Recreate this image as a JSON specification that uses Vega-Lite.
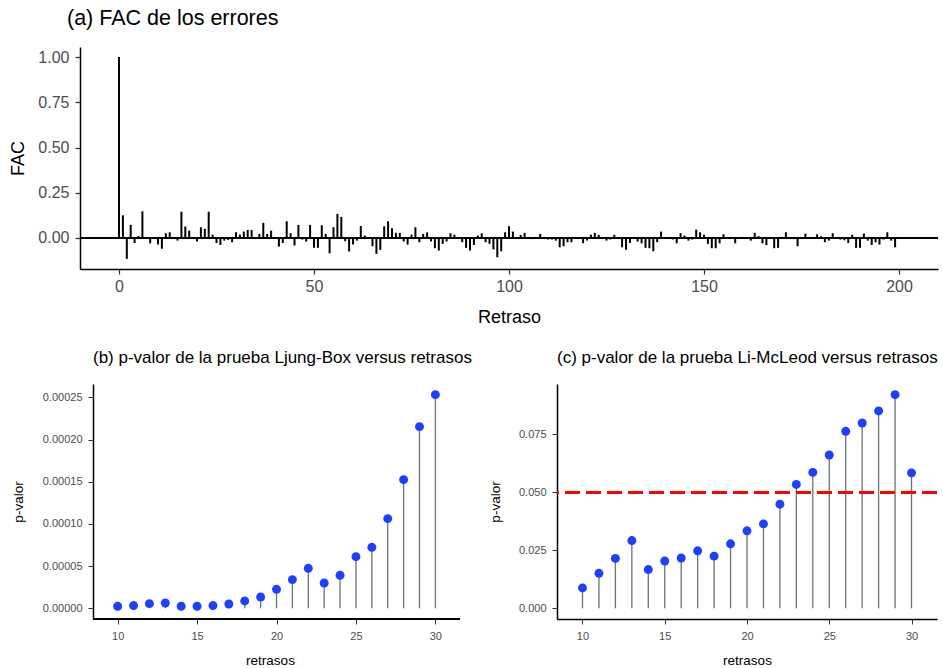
{
  "$schema": "https://vega.github.io/schema/vega-lite/v6.json",
  "padding": {"left": 9, "top": 7, "right": 4, "bottom": 4},
  "config": {
    "font": "Liberation Sans",
    "view": {"stroke": null},
    "axis": {"grid": false, "domainColor": "black", "tickColor": "#333333", "labelColor": "#4d4d4d", "titleColor": "black", "titleFontWeight": "normal", "labelFont": "Liberation Sans", "titleFont": "Liberation Sans"},
    "title": {"font": "Liberation Sans", "fontWeight": "normal", "color": "black", "anchor": "start", "frame": "group"}
  },
  "datasets": {
    "fac": [
      {"retraso":0,"fac":1.0},{"retraso":1,"fac":0.125},{"retraso":2,"fac":-0.116},{"retraso":3,"fac":0.072},{"retraso":4,"fac":-0.028},{"retraso":5,"fac":0.01},{"retraso":6,"fac":0.147},{"retraso":7,"fac":0.005},{"retraso":8,"fac":-0.03},{"retraso":9,"fac":0.003},
      {"retraso":10,"fac":-0.037},{"retraso":11,"fac":-0.06},{"retraso":12,"fac":0.026},{"retraso":13,"fac":0.031},{"retraso":14,"fac":0.004},{"retraso":15,"fac":-0.015},{"retraso":16,"fac":0.145},{"retraso":17,"fac":0.063},{"retraso":18,"fac":0.04},{"retraso":19,"fac":0.002},
      {"retraso":20,"fac":-0.02},{"retraso":21,"fac":0.059},{"retraso":22,"fac":0.05},{"retraso":23,"fac":0.145},{"retraso":24,"fac":0.018},{"retraso":25,"fac":-0.028},{"retraso":26,"fac":-0.039},{"retraso":27,"fac":-0.015},{"retraso":28,"fac":-0.011},{"retraso":29,"fac":-0.024},
      {"retraso":30,"fac":0.031},{"retraso":31,"fac":0.018},{"retraso":32,"fac":0.035},{"retraso":33,"fac":0.044},{"retraso":34,"fac":0.044},{"retraso":35,"fac":0.003},{"retraso":36,"fac":0.022},{"retraso":37,"fac":0.083},{"retraso":38,"fac":0.022},{"retraso":39,"fac":0.04},
      {"retraso":40,"fac":0.002},{"retraso":41,"fac":-0.048},{"retraso":42,"fac":-0.028},{"retraso":43,"fac":0.092},{"retraso":44,"fac":0.026},{"retraso":45,"fac":-0.042},{"retraso":46,"fac":0.072},{"retraso":47,"fac":-0.009},{"retraso":48,"fac":-0.02},{"retraso":49,"fac":0.072},
      {"retraso":50,"fac":-0.055},{"retraso":51,"fac":-0.055},{"retraso":52,"fac":0.07},{"retraso":53,"fac":0.022},{"retraso":54,"fac":-0.085},{"retraso":55,"fac":0.059},{"retraso":56,"fac":0.133},{"retraso":57,"fac":0.116},{"retraso":58,"fac":-0.018},{"retraso":59,"fac":-0.075},
      {"retraso":60,"fac":-0.037},{"retraso":61,"fac":-0.015},{"retraso":62,"fac":0.066},{"retraso":63,"fac":0.013},{"retraso":64,"fac":0.002},{"retraso":65,"fac":-0.046},{"retraso":66,"fac":-0.088},{"retraso":67,"fac":-0.066},{"retraso":68,"fac":0.064},{"retraso":69,"fac":0.092},
      {"retraso":70,"fac":0.053},{"retraso":71,"fac":0.028},{"retraso":72,"fac":0.028},{"retraso":73,"fac":-0.02},{"retraso":74,"fac":-0.037},{"retraso":75,"fac":0.018},{"retraso":76,"fac":0.059},{"retraso":77,"fac":-0.024},{"retraso":78,"fac":0.022},{"retraso":79,"fac":0.031},
      {"retraso":80,"fac":-0.02},{"retraso":81,"fac":-0.057},{"retraso":82,"fac":-0.07},{"retraso":83,"fac":-0.033},{"retraso":84,"fac":-0.02},{"retraso":85,"fac":0.026},{"retraso":86,"fac":0.018},{"retraso":87,"fac":0.002},{"retraso":88,"fac":-0.024},{"retraso":89,"fac":-0.055},
      {"retraso":90,"fac":-0.07},{"retraso":91,"fac":-0.039},{"retraso":92,"fac":0.013},{"retraso":93,"fac":0.026},{"retraso":94,"fac":-0.024},{"retraso":95,"fac":-0.033},{"retraso":96,"fac":-0.064},{"retraso":97,"fac":-0.107},{"retraso":98,"fac":-0.074},{"retraso":99,"fac":0.031},
      {"retraso":100,"fac":0.064},{"retraso":101,"fac":0.035},{"retraso":102,"fac":0.003},{"retraso":103,"fac":0.017},{"retraso":104,"fac":0.028},{"retraso":105,"fac":0.002},{"retraso":106,"fac":-0.007},{"retraso":107,"fac":0.002},{"retraso":108,"fac":0.022},{"retraso":109,"fac":0.002},
      {"retraso":110,"fac":-0.009},{"retraso":111,"fac":-0.009},{"retraso":112,"fac":-0.015},{"retraso":113,"fac":-0.052},{"retraso":114,"fac":-0.046},{"retraso":115,"fac":-0.024},{"retraso":116,"fac":-0.024},{"retraso":117,"fac":0.002},{"retraso":118,"fac":0.002},{"retraso":119,"fac":-0.029},
      {"retraso":120,"fac":-0.015},{"retraso":121,"fac":0.018},{"retraso":122,"fac":0.028},{"retraso":123,"fac":0.017},{"retraso":124,"fac":-0.006},{"retraso":125,"fac":-0.015},{"retraso":126,"fac":-0.009},{"retraso":127,"fac":0.017},{"retraso":128,"fac":0.002},{"retraso":129,"fac":-0.052},
      {"retraso":130,"fac":-0.066},{"retraso":131,"fac":-0.028},{"retraso":132,"fac":0.002},{"retraso":133,"fac":-0.02},{"retraso":134,"fac":-0.03},{"retraso":135,"fac":-0.055},{"retraso":136,"fac":-0.057},{"retraso":137,"fac":-0.074},{"retraso":138,"fac":-0.024},{"retraso":139,"fac":0.035},
      {"retraso":140,"fac":0.002},{"retraso":141,"fac":-0.006},{"retraso":142,"fac":-0.009},{"retraso":143,"fac":-0.03},{"retraso":144,"fac":0.026},{"retraso":145,"fac":0.013},{"retraso":146,"fac":-0.015},{"retraso":147,"fac":-0.009},{"retraso":148,"fac":0.046},{"retraso":149,"fac":0.031},
      {"retraso":150,"fac":0.017},{"retraso":151,"fac":-0.033},{"retraso":152,"fac":-0.057},{"retraso":153,"fac":-0.057},{"retraso":154,"fac":-0.03},{"retraso":155,"fac":0.02},{"retraso":156,"fac":0.002},{"retraso":157,"fac":0.002},{"retraso":158,"fac":-0.03},{"retraso":159,"fac":-0.006},
      {"retraso":160,"fac":0.002},{"retraso":161,"fac":0.002},{"retraso":162,"fac":-0.015},{"retraso":163,"fac":0.028},{"retraso":164,"fac":0.01},{"retraso":165,"fac":-0.03},{"retraso":166,"fac":-0.04},{"retraso":167,"fac":0.002},{"retraso":168,"fac":-0.057},{"retraso":169,"fac":-0.055},
      {"retraso":170,"fac":0.002},{"retraso":171,"fac":0.031},{"retraso":172,"fac":0.002},{"retraso":173,"fac":-0.007},{"retraso":174,"fac":-0.046},{"retraso":175,"fac":0.002},{"retraso":176,"fac":0.024},{"retraso":177,"fac":0.002},{"retraso":178,"fac":0.002},{"retraso":179,"fac":0.02},
      {"retraso":180,"fac":0.009},{"retraso":181,"fac":-0.024},{"retraso":182,"fac":-0.015},{"retraso":183,"fac":0.026},{"retraso":184,"fac":0.002},{"retraso":185,"fac":-0.009},{"retraso":186,"fac":-0.013},{"retraso":187,"fac":-0.028},{"retraso":188,"fac":0.017},{"retraso":189,"fac":-0.055},
      {"retraso":190,"fac":-0.055},{"retraso":191,"fac":0.024},{"retraso":192,"fac":-0.015},{"retraso":193,"fac":-0.039},{"retraso":194,"fac":-0.024},{"retraso":195,"fac":-0.037},{"retraso":196,"fac":-0.009},{"retraso":197,"fac":0.031},{"retraso":198,"fac":-0.015},{"retraso":199,"fac":-0.052}
    ],
    "ljung": [
      {"retrasos":10,"pvalor":0.0000024},{"retrasos":11,"pvalor":0.0000032},{"retrasos":12,"pvalor":0.0000055},{"retrasos":13,"pvalor":0.0000063},{"retrasos":14,"pvalor":0.0000024},{"retrasos":15,"pvalor":0.0000024},{"retrasos":16,"pvalor":0.0000032},{"retrasos":17,"pvalor":0.0000051},{"retrasos":18,"pvalor":0.0000087},{"retrasos":19,"pvalor":0.0000134},{"retrasos":20,"pvalor":0.0000225},
      {"retrasos":21,"pvalor":0.000034},{"retrasos":22,"pvalor":0.0000474},{"retrasos":23,"pvalor":0.00003},{"retrasos":24,"pvalor":0.0000391},{"retrasos":25,"pvalor":0.0000612},{"retrasos":26,"pvalor":0.0000723},{"retrasos":27,"pvalor":0.0001063},{"retrasos":28,"pvalor":0.0001525},{"retrasos":29,"pvalor":0.0002153},{"retrasos":30,"pvalor":0.0002532}
    ],
    "limcleod": [
      {"retrasos":10,"pvalor":0.0088},{"retrasos":11,"pvalor":0.0151},{"retrasos":12,"pvalor":0.0215},{"retrasos":13,"pvalor":0.0292},{"retrasos":14,"pvalor":0.0167},{"retrasos":15,"pvalor":0.0204},{"retrasos":16,"pvalor":0.0217},{"retrasos":17,"pvalor":0.0248},{"retrasos":18,"pvalor":0.0225},{"retrasos":19,"pvalor":0.0278},{"retrasos":20,"pvalor":0.0334},
      {"retrasos":21,"pvalor":0.0364},{"retrasos":22,"pvalor":0.0449},{"retrasos":23,"pvalor":0.0534},{"retrasos":24,"pvalor":0.0586},{"retrasos":25,"pvalor":0.0661},{"retrasos":26,"pvalor":0.0763},{"retrasos":27,"pvalor":0.0799},{"retrasos":28,"pvalor":0.0851},{"retrasos":29,"pvalor":0.0921},{"retrasos":30,"pvalor":0.0584}
    ]
  },
  "spacing": 23,
  "vconcat": [
    {
      "bounds": "full",
      "hconcat": [
        {
          "width": 858,
          "height": 222,
          "title": {"text": "(a) FAC de los errores", "fontSize": 21.5, "dx": -13, "offset": 18},
          "data": {"name": "fac"},
          "layer": [
            {
              "mark": {"type": "rule", "color": "black", "strokeWidth": 1.8},
              "encoding": {"y": {"datum": 0, "type": "quantitative"}}
            },
            {
              "mark": {"type": "rule", "color": "black", "strokeWidth": 2},
              "encoding": {
                "x": {"field": "retraso", "type": "quantitative", "scale": {"domain": [-10, 210], "nice": false, "zero": false},
                      "axis": {"title": "Retraso", "values": [0, 50, 100, 150, 200], "labelFontSize": 16, "titleFontSize": 18, "tickSize": 5, "labelPadding": 4, "titlePadding": 14, "domainWidth": 1.5, "tickWidth": 1.2}},
                "y": {"field": "fac", "type": "quantitative", "scale": {"domain": [-0.172, 1.056], "nice": false, "zero": false},
                      "axis": {"title": "FAC", "values": [0, 0.25, 0.5, 0.75, 1], "format": ".2f", "labelFontSize": 16, "titleFontSize": 18, "tickSize": 5, "labelPadding": 6, "titlePadding": 10, "domainWidth": 1.5, "tickWidth": 1.2}},
                "y2": {"datum": 0}
              }
            }
          ]
        }
      ]
    },
    {
      "bounds": "full",
      "spacing": 16,
      "hconcat": [
        {
          "width": 380,
          "height": 235,
          "title": {"text": "(b) p-valor de la prueba Ljung-Box versus retrasos", "fontSize": 17, "offset": 17, "dx": 13},
          "data": {"name": "ljung"},
          "layer": [
            {
              "mark": {"type": "rule", "color": "#6b7476", "strokeWidth": 1.3},
              "encoding": {
                "x": {"field": "retrasos", "type": "quantitative", "scale": {"domain": [7.63, 31.55], "nice": false, "zero": false},
                      "axis": {"title": "retrasos", "values": [10, 15, 20, 25, 30], "domain": false, "labelFontSize": 11, "titleFontSize": 13.5, "tickSize": 5, "labelPadding": 6, "titlePadding": 12}},
                "y": {"field": "pvalor", "type": "quantitative", "scale": {"domain": [-0.0000127, 0.0002659], "nice": false, "zero": false},
                      "axis": {"title": "p-valor", "values": [0, 0.00005, 0.0001, 0.00015, 0.0002, 0.00025], "format": ".5f", "offset": -13, "labelFontSize": 11, "titleFontSize": 13.5, "tickSize": 5, "labelPadding": 6, "titlePadding": 17, "domainWidth": 1.5}},
                "y2": {"datum": 0}
              }
            },
            {
              "mark": {"type": "rule", "color": "black", "strokeWidth": 1.5},
              "encoding": {
                "x": {"datum": 8.45, "type": "quantitative"},
                "x2": {"datum": 31.55},
                "y": {"datum": -0.0000127, "type": "quantitative"}
              }
            },
            {
              "mark": {"type": "point", "filled": true, "color": "#1f3fff", "opacity": 1, "size": 80},
              "encoding": {
                "x": {"field": "retrasos", "type": "quantitative"},
                "y": {"field": "pvalor", "type": "quantitative"}
              }
            }
          ]
        },
        {
          "width": 380,
          "height": 235,
          "title": {"text": "(c) p-valor de la prueba Li-McLeod versus retrasos", "fontSize": 17, "offset": 17},
          "data": {"name": "limcleod"},
          "layer": [
            {
              "mark": {"type": "rule", "color": "#6b7476", "strokeWidth": 1.3},
              "encoding": {
                "x": {"field": "retrasos", "type": "quantitative", "scale": {"domain": [8.45, 31.55], "nice": false, "zero": false},
                      "axis": {"title": "retrasos", "values": [10, 15, 20, 25, 30], "labelFontSize": 11, "titleFontSize": 13.5, "tickSize": 5, "labelPadding": 6, "titlePadding": 12, "domainWidth": 1.5}},
                "y": {"field": "pvalor", "type": "quantitative", "scale": {"domain": [-0.0046, 0.0967], "nice": false, "zero": false},
                      "axis": {"title": "p-valor", "values": [0, 0.025, 0.05, 0.075], "format": ".3f", "labelFontSize": 11, "titleFontSize": 13.5, "tickSize": 5, "labelPadding": 6, "titlePadding": 16, "domainWidth": 1.5}},
                "y2": {"datum": 0}
              }
            },
            {
              "mark": {"type": "rule", "color": "#ff0000", "strokeWidth": 2.3, "strokeDash": [15, 6]},
              "encoding": {"y": {"datum": 0.05, "type": "quantitative"}}
            },
            {
              "mark": {"type": "point", "filled": true, "color": "#1f3fff", "opacity": 1, "size": 80},
              "encoding": {
                "x": {"field": "retrasos", "type": "quantitative"},
                "y": {"field": "pvalor", "type": "quantitative"}
              }
            }
          ]
        }
      ]
    }
  ]
}
